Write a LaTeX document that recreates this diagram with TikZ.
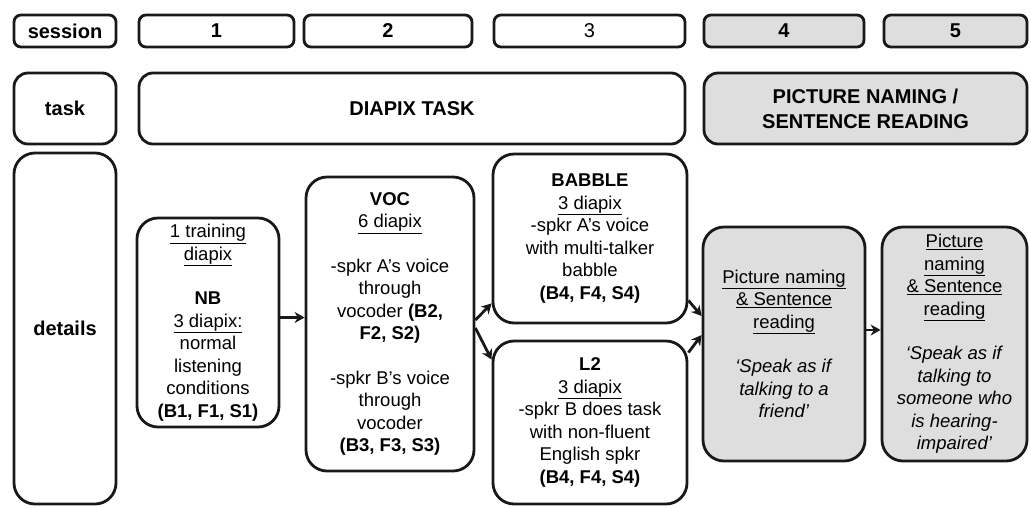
\documentclass[tikz,border=0pt]{standalone}
\usepackage{fontspec}
\setmainfont{Liberation Sans}
\usepackage{tikz}
\usetikzlibrary{positioning,arrows.meta}
\definecolor{panelgray}{RGB}{222,222,222}
\newcommand{\undl}[1]{\underline{#1}}
\tikzset{
  cell/.style={draw=black!90, line width=2.8pt, inner sep=0pt, align=center,
               font=\fontsize{18.5}{22.5}\selectfont},
  sess/.style={cell, rounded corners=7pt, minimum height=32pt,
               font=\fontsize{20}{24}\selectfont\bfseries},
  taskcell/.style={cell, rounded corners=14pt, minimum height=71pt,
                   font=\fontsize{20}{25}\selectfont\bfseries},
  detail/.style={cell, rounded corners=21pt},
  shaded/.style={fill=panelgray},
  flow/.style={-{Stealth[length=10pt,width=11pt]}, line width=2.8pt, black!90}
}

\begin{document}
\begin{tikzpicture}[x=1pt, y=-1pt]
\useasboundingbox (0,0) rectangle (1031,507);
% session row
\node[sess, minimum width=102pt] (sesh) at (65,31) {session};
\node[sess, minimum width=155pt] (s1) at (216.5,31) {1};
\node[sess, minimum width=168pt] (s2) at (388,31) {2};
\node[sess, minimum width=191pt, font=\fontsize{20}{24}\selectfont] (s3) at (589.5,31) {3};
\node[sess, shaded, minimum width=160pt] (s4) at (784,31) {4};
\node[sess, shaded, minimum width=143pt] (s5) at (955.5,31) {5};
% task row
\node[taskcell, minimum width=102pt] (task) at (65,108.5) {task};
\node[taskcell, minimum width=546pt] (diapix) at (412,108.5) {DIAPIX TASK};
\node[taskcell, shaded, minimum width=323pt] (naming) at (865.5,108.5) {PICTURE NAMING /\\SENTENCE READING};
% details row
\node[detail, minimum width=102pt, minimum height=351pt, font=\fontsize{20}{24}\selectfont\bfseries] (details) at (65,328.5) {details};
\node[detail, minimum width=142pt, minimum height=209pt] (nb) at (208,322.5) {%
  \undl{1 training}\\ \undl{diapix}\\[22pt] \textbf{NB}\\ \undl{3 diapix:}\\
  normal\\ listening\\ conditions\\ \textbf{(B1, F1, S1)}};
\node[detail, minimum width=168pt, minimum height=294pt] (voc) at (390,324) {%
  \textbf{VOC}\\ \undl{6 diapix}\\[22pt] -spkr A's voice\\ through\\
  vocoder \textbf{(B2,}\\ \textbf{F2, S2)}\\[22pt] -spkr B's voice\\ through\\
  vocoder\\ \textbf{(B3, F3, S3)}};
\node[detail, minimum width=194pt, minimum height=169pt] (babble) at (590,238.5) {%
  \textbf{BABBLE}\\ \undl{3 diapix}\\ -spkr A's voice\\ with multi-talker\\
  babble\\ \textbf{(B4, F4, S4)}};
\node[detail, minimum width=194pt, minimum height=163pt] (ltwo) at (590,422.5) {%
  \textbf{L2}\\ \undl{3 diapix}\\ -spkr B does task\\ with non-fluent\\
  English spkr\\ \textbf{(B4, F4, S4)}};
\node[detail, shaded, minimum width=162pt, minimum height=234pt] (friend) at (784,344) {%
  \undl{Picture naming}\\ \undl{\& Sentence}\\ \undl{reading}\\[22pt]
  \textit{`Speak as if}\\ \textit{talking to a}\\ \textit{friend'}};
\node[detail, shaded, minimum width=145pt, minimum height=234pt] (hearing) at (954.5,344) {%
  \undl{Picture}\\ \undl{naming}\\ \undl{\& Sentence}\\ \undl{reading}\\[22pt]
  \textit{`Speak as if}\\ \textit{talking to}\\ \textit{someone who}\\
  \textit{is hearing-}\\ \textit{impaired'}};
% arrows between conditions
\draw[flow] ([yshift=5pt]nb.east) -- ([yshift=5pt]nb.east -| voc.west);
\draw[flow] ([yshift=4pt]voc.east) -- ([yshift=21pt]babble.south west);
\draw[flow] ([yshift=-4pt]voc.east) -- ([yshift=-20pt]ltwo.north west);
\draw[flow] ([yshift=24pt]babble.south east) -- ([yshift=28pt]friend.west);
\draw[flow] ([yshift=-13pt]ltwo.north east) -- ([yshift=9pt]friend.west);
\draw[flow] ([yshift=14pt]friend.east) -- ([yshift=14pt]friend.east -| hearing.west);
\end{tikzpicture}
\end{document}
